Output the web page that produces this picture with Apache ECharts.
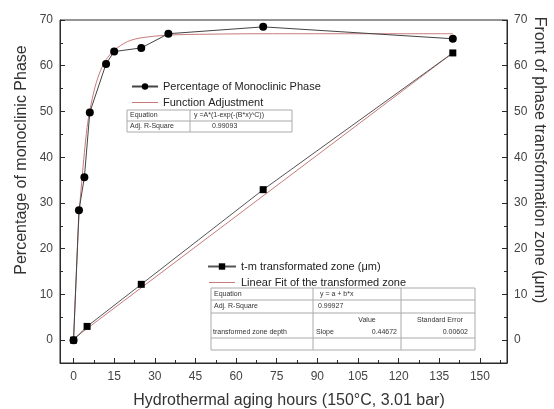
<!DOCTYPE html>
<html>
<head>
<meta charset="utf-8">
<script src="https://cdn.jsdelivr.net/npm/echarts@6/dist/echarts.min.js"></script>
<style>
html, body { margin: 0; padding: 0; background: #fff; }
#graph { width: 554px; height: 409px; }
</style>
</head>
<body>
<div id="graph"></div>
<script>
// monoclinic phase (left axis)
var monoHours = [0, 2, 4, 6, 12, 15, 25, 35, 70, 140];
var monoPct = [0, 28.4, 35.6, 49.8, 60.4, 63.1, 63.9, 67.0, 68.5, 65.9];
// fitted curve
var adjHours = [0, 1, 2, 3, 4, 5, 6, 8, 10, 12, 15, 20, 25, 35, 50, 70, 100, 140];
var adjPct = [0, 14, 27, 34.5, 41, 46.5, 50.2, 55.5, 59, 61.3, 63.4, 65.3, 66.1, 66.7, 66.9, 67, 67, 67];
// transformed zone (right axis)
var zoneHours = [0, 5, 25, 70, 140];
var zoneDepth = [0, 3.0, 12.2, 32.9, 62.8];
var linHours = [0, 140];
var linDepth = [0.3, 62.8];

var xMajor = [0, 15, 30, 45, 60, 75, 90, 105, 120, 135, 150];
var xMinor = [7.5, 22.5, 37.5, 52.5, 67.5, 82.5, 97.5, 112.5, 127.5, 142.5, 157.5];
var yMajor = [0, 10, 20, 30, 40, 50, 60, 70];
var yMinor = [-5, 5, 15, 25, 35, 45, 55, 65];

function pairs(xs, ys) {
    var out = [];
    for (var i = 0; i < xs.length; i++) out.push([xs[i], ys[i]]);
    return out;
}

var font = 'Liberation Sans, Arial, sans-serif';
var dark = '#2a2a2a';
var fitRed = '#c97a7a';
// plain thin line for legend entries of fit lines (tiny corner dots keep the box 26x8)
var lineIcon = 'path://M0,0L0.01,0L0.01,0.01Z M0,3.5L26,3.5L26,4.5L0,4.5Z M25.99,7.99L26,7.99L26,8Z';

function xAxisOf(ticks, len, labels) {
    return {
        type: 'value', min: -5, max: 160, position: 'bottom',
        axisLine: { show: labels, onZero: false, lineStyle: { color: dark, width: 1 } },
        axisTick: { show: true, inside: true, length: len, customValues: ticks, lineStyle: { color: dark } },
        axisLabel: labels ? { customValues: ticks, color: '#444', fontSize: 12, fontFamily: font, margin: 8 } : { show: false },
        splitLine: { show: false }
    };
}
function yAxisOf(pos, ticks, len, labels) {
    return {
        type: 'value', min: -5, max: 70, position: pos,
        axisLine: { show: labels, onZero: false, lineStyle: { color: dark, width: 1 } },
        axisTick: { show: true, inside: true, length: len, customValues: ticks, lineStyle: { color: dark } },
        axisLabel: labels ? { customValues: ticks, color: '#444', fontSize: 12, fontFamily: font, margin: 7 } : { show: false },
        splitLine: { show: false }
    };
}

function cellText(x, y, t, align) {
    return {
        type: 'text', x: x, y: y,
        style: { text: t, fontSize: 7, fontFamily: font, fill: '#333', align: align || 'left', verticalAlign: 'middle' }
    };
}
function hline(x1, x2, y) {
    return { type: 'line', shape: { x1: x1, y1: y, x2: x2, y2: y }, style: { stroke: '#aaa', lineWidth: 1 } };
}
function vline(x, y1, y2) {
    return { type: 'line', shape: { x1: x, y1: y1, x2: x, y2: y2 }, style: { stroke: '#aaa', lineWidth: 1 } };
}

var chartOption = {
    backgroundColor: '#fff',
    animation: false,
    textStyle: { fontFamily: font },
    grid: { left: 60, right: 47, top: 20, bottom: 46, show: true, borderColor: dark, borderWidth: 1 },
    xAxis: [xAxisOf(xMajor, 5, true), xAxisOf(xMinor, 3, false)],
    yAxis: [
        yAxisOf('left', yMajor, 5, true),
        yAxisOf('right', yMajor, 5, true),
        yAxisOf('left', yMinor, 3, false),
        yAxisOf('right', yMinor, 3, false)
    ],
    legend: [
        {
            data: ['Percentage of Monoclinic Phase', { name: 'Function Adjustment', icon: lineIcon }],
            orient: 'vertical', left: 126, top: 76, itemWidth: 26, itemHeight: 8, itemGap: 5,
            textStyle: { fontSize: 11, color: '#222', fontFamily: font }
        },
        {
            data: ['t-m transformated zone (\u03bcm)', { name: 'Linear Fit of the transformed zone', icon: lineIcon }],
            orient: 'vertical', left: 202, top: 256, itemWidth: 28, itemHeight: 8, itemGap: 5,
            textStyle: { fontSize: 11, color: '#222', fontFamily: font }
        }
    ],
    series: [
        {
            name: 'Function Adjustment', type: 'line', smooth: 0.3,
            data: pairs(adjHours, adjPct), symbol: 'none',
            lineStyle: { color: fitRed, width: 1 }, itemStyle: { color: fitRed }
        },
        {
            name: 'Percentage of Monoclinic Phase', type: 'line',
            data: pairs(monoHours, monoPct), symbol: 'circle', symbolSize: 8,
            lineStyle: { color: '#444', width: 1 }, itemStyle: { color: '#000' }
        },
        {
            name: 'Linear Fit of the transformed zone', type: 'line', yAxisIndex: 1,
            data: pairs(linHours, linDepth), symbol: 'none',
            lineStyle: { color: fitRed, width: 1 }, itemStyle: { color: fitRed }
        },
        {
            name: 't-m transformated zone (\u03bcm)', type: 'line', yAxisIndex: 1,
            data: pairs(zoneHours, zoneDepth), symbol: 'rect', symbolSize: 7,
            lineStyle: { color: '#555', width: 1 }, itemStyle: { color: '#000' }
        }
    ],
    graphic: [
        // axis titles
        {
            type: 'text', x: 22, y: 160, rotation: Math.PI / 2,
            style: { text: 'Percentage of monoclinic Phase', fontSize: 16, fontFamily: font, fill: '#333', align: 'center', verticalAlign: 'middle' }
        },
        {
            type: 'text', x: 539, y: 160, rotation: -Math.PI / 2,
            style: { text: 'Front of phase transformation zone (\u03bcm)', fontSize: 16, fontFamily: font, fill: '#333', align: 'center', verticalAlign: 'middle' }
        },
        {
            type: 'text', x: 289, y: 401,
            style: { text: 'Hydrothermal aging hours (150\u00b0C, 3.01 bar)', fontSize: 16, fontFamily: font, fill: '#333', align: 'center', verticalAlign: 'middle' }
        },
        // first fit table
        { type: 'rect', shape: { x: 127, y: 110, width: 165, height: 22 }, style: { fill: '#fff', stroke: '#aaa', lineWidth: 1 } },
        hline(127, 292, 121),
        vline(190, 110, 132),
        cellText(130, 115.5, 'Equation'),
        cellText(194, 115.5, 'y =A*(1-exp(-(B*x)^C))'),
        cellText(130, 126.5, 'Adj. R-Square'),
        cellText(212, 126.5, '0.99093'),
        // second fit table
        { type: 'rect', shape: { x: 211, y: 288, width: 264, height: 62 }, style: { fill: '#fff', stroke: '#aaa', lineWidth: 1 } },
        hline(211, 475, 300),
        hline(211, 475, 313),
        hline(211, 475, 338),
        vline(313, 288, 350),
        vline(401, 288, 350),
        cellText(214, 294, 'Equation'),
        cellText(320, 294, 'y = a + b*x'),
        cellText(214, 306.5, 'Adj. R-Square'),
        cellText(318, 306.5, '0.99927'),
        cellText(367, 320, 'Value', 'center'),
        cellText(417, 320, 'Standard Error'),
        cellText(213, 332, 'transformed zone depth'),
        cellText(316, 332, 'Slope'),
        cellText(397, 332, '0.44672', 'right'),
        cellText(468, 332, '0.00602', 'right')
    ]
};

var chart = echarts.init(document.getElementById('graph'), null, { renderer: 'canvas' });
chart.setOption(chartOption);
</script>
</body>
</html>
